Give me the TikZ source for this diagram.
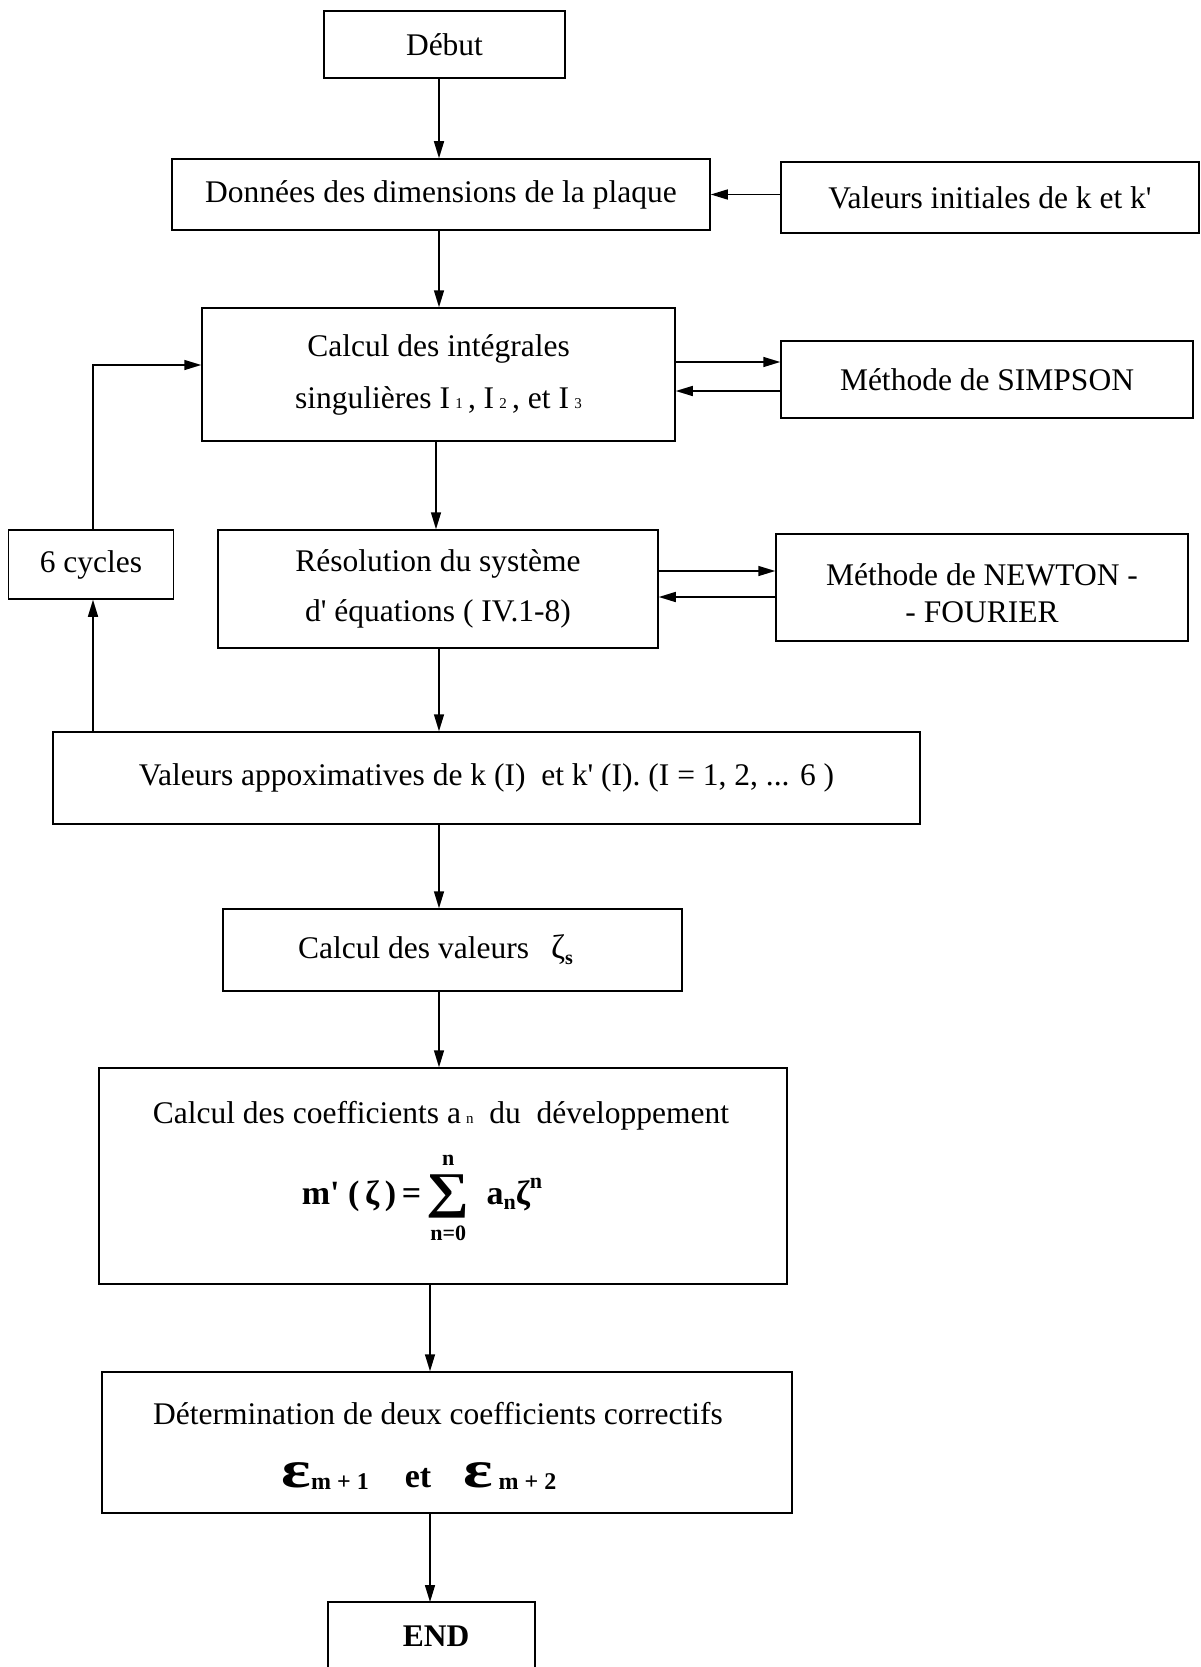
\documentclass[tikz,border=0pt]{standalone}
\usepackage{amsmath}
\usepackage{fontspec}
\setmainfont{Liberation Serif}
\usetikzlibrary{arrows.meta}
\newcommand{\smx}[1]{{\fontsize{15}{15}\selectfont #1}}
\newcommand{\q}{\textquotesingle}
\newcommand{\limsz}[1]{{\fontsize{22}{22}\selectfont #1}}
\newcommand{\sumstack}{$\vcenter{\offinterlineskip\halign{\hfil##\hfil\cr\limsz{n}\cr\noalign{\kern9pt}{\fontsize{50}{50}\selectfont\scalebox{1.2}[1]{∑}}\cr\noalign{\kern8pt}\limsz{n=0}\cr}}$}
\newcommand{\myformula}{{\bfseries\fontsize{34}{40}\selectfont m\q\ (\,ζ\,)\,=\,\sumstack\ \ a\raisebox{-5pt}{\limsz{n}}ζ\raisebox{16pt}{\limsz{n}}}}
\newcommand{\epsc}{\scalebox{1.5}[1.15]{ε}}
\newcommand{\myeps}{{\bfseries\fontsize{46}{48}\selectfont \epsc\raisebox{-2pt}{\fontsize{24}{24}\selectfont m + 1}\hspace{36pt}{\fontsize{34}{34}\selectfont et}\hspace{32pt}\epsc\raisebox{-2pt}{\fontsize{24}{24}\selectfont\ m + 2}}}
\begin{document}
\begin{tikzpicture}[x=1pt,y=-1pt,
  box/.style={draw, line width=1.5pt, inner sep=0pt, align=center,
    font=\fontsize{31.5}{38}\selectfont},
  txt/.style={inner sep=0pt, align=center, font=\fontsize{31.5}{38}\selectfont},
  arr/.style={line width=1.5pt, -{Triangle[length=17pt,width=10pt]}},
  ln/.style={line width=1.5pt}]
\useasboundingbox (0,0) rectangle (1200,1667);
\fill[white] (0,0) rectangle (1200,1667);

\node[box, minimum width=241pt, minimum height=67pt] (debut) at (444.5,44.5) {Début};
\node[box, minimum width=538pt, minimum height=71pt] (donnees) at (441,194.5) {Données des dimensions de la plaque};
\node[box, minimum width=418pt, minimum height=71pt] (valinit) at (990,197.5) {Valeurs initiales de k et k\q};
\node[box, minimum width=473pt, minimum height=133pt, font=\fontsize{31.5}{52}\selectfont] (calcint) at (438.5,374.5)
  {Calcul des intégrales\\singulières I\,\smx{1}\,, I\,\smx{2}\,, et I\,\smx{3}};
\node[box, minimum width=412pt, minimum height=77pt] (simpson) at (987,379.5) {Méthode de SIMPSON};
\node[box, minimum width=165pt, minimum height=69pt] (cycles) at (91,564.5) {6 cycles};
\node[box, minimum width=440pt, minimum height=118pt, font=\fontsize{31.5}{50}\selectfont] (resol) at (438,589)
  {Résolution du système\\d\q\ équations ( IV.1-8)};
\node[box, minimum width=412pt, minimum height=107pt, font=\fontsize{31.5}{37}\selectfont] (newton) at (982,587.5)
  {\raisebox{-16pt}[0pt][0pt]{Méthode de NEWTON -}\\\raisebox{-16pt}[0pt][0pt]{- FOURIER}};
\node[box, minimum width=867pt, minimum height=92pt] (approx) at (486.5,778)
  {Valeurs appoximatives de k (I)\ \ et k\q\ (I). (I = 1, 2, ... 6 )};
\node[box, minimum width=459pt, minimum height=82pt] (zeta) at (452.5,950)
  {Calcul des valeurs\hspace{22pt}{\fontsize{34}{34}\selectfont ζ}\raisebox{-6pt}{\fontsize{20}{20}\selectfont\bfseries s}\hspace{34pt}};
\node[box, minimum width=688pt, minimum height=216pt] (coeff) at (443,1176) {};
\node[txt] (coefft) at (441,1116) {Calcul des coefficients a\,\smx{n}\ \ du\ \ développement};
\node[txt] (coeffm) at (422,1198) {\myformula};
\node[box, minimum width=690pt, minimum height=141pt] (determ) at (447,1442.5) {};
\node[txt] (determt) at (438,1414) {Détermination de deux coefficients correctifs};
\node[txt] (determe) at (419,1476) {\myeps};
\draw[ln] (328,1670) -- (328,1602) -- (535,1602) -- (535,1670);
\node[txt, font=\fontsize{31.5}{38}\selectfont\bfseries] (endt) at (436,1636) {END};
\coordinate (endtop) at (430,1602);

\coordinate (xa) at (439,0);
\coordinate (xb) at (436,0);
\coordinate (xc) at (430,0);
\coordinate (xl) at (93,0);
\coordinate (yl) at (0,365);
\coordinate (ys1) at (0,362);
\coordinate (ys2) at (0,391);
\coordinate (yn1) at (0,571);
\coordinate (yn2) at (0,597);

\draw[arr] (debut.south -| xa) -- (donnees.north -| xa);
\draw[arr] (valinit.west |- donnees.east) -- (donnees.east);
\draw[arr] (donnees.south -| xa) -- (calcint.north -| xa);
\draw[arr] (calcint.east |- ys1) -- (simpson.west |- ys1);
\draw[arr] (simpson.west |- ys2) -- (calcint.east |- ys2);
\draw[arr] (calcint.south -| xb) -- (resol.north -| xb);
\draw[arr] (resol.east |- yn1) -- (newton.west |- yn1);
\draw[arr] (newton.west |- yn2) -- (resol.east |- yn2);
\draw[arr] (resol.south -| xa) -- (approx.north -| xa);
\draw[arr] (approx.north -| xl) -- (cycles.south -| xl);
\draw[arr] (cycles.north -| xl) -- (xl |- yl) -- (calcint.west |- yl);
\draw[arr] (approx.south -| xa) -- (zeta.north -| xa);
\draw[arr] (zeta.south -| xa) -- (coeff.north -| xa);
\draw[arr] (coeff.south -| xc) -- (determ.north -| xc);
\draw[arr] (determ.south -| xc) -- (endtop);
\end{tikzpicture}
\end{document}
